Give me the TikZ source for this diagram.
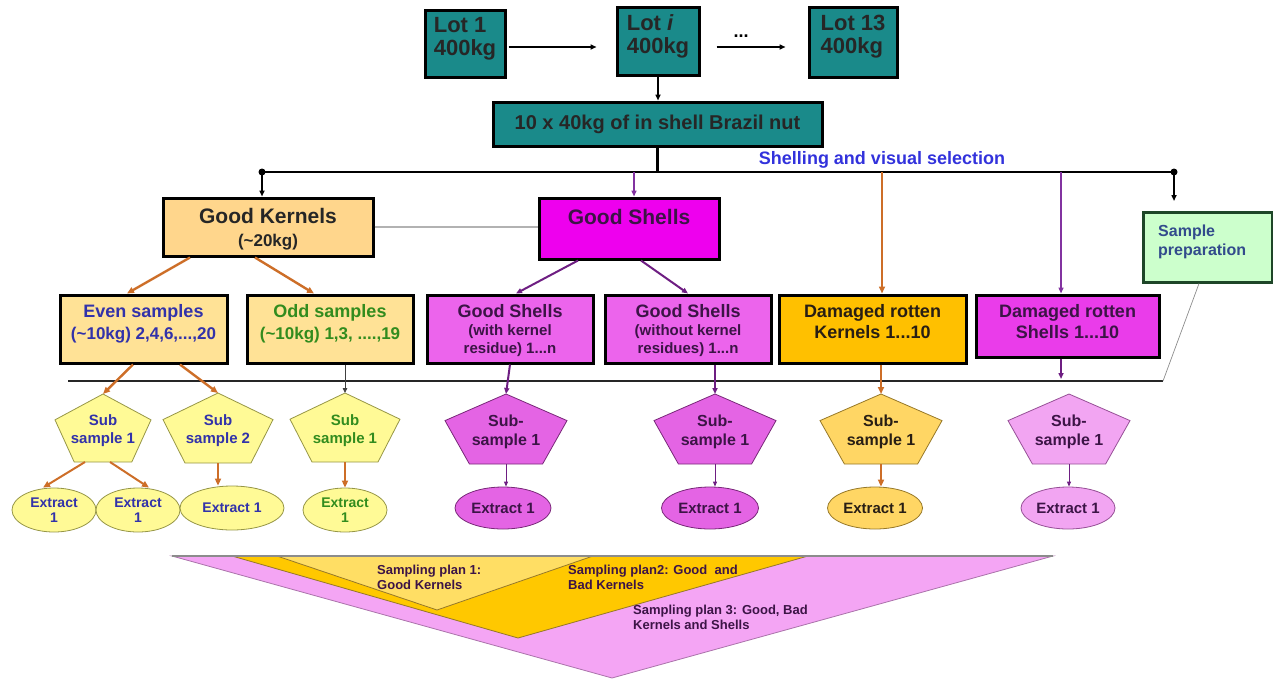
\documentclass[tikz,border=0pt]{standalone}
\usepackage{fontspec}
\setmainfont{Liberation Sans}
\usetikzlibrary{arrows.meta,shapes.geometric}

\definecolor{tealc}{RGB}{26,138,138}
\definecolor{gkfill}{RGB}{255,214,140}
\definecolor{eofill}{RGB}{255,226,150}
\definecolor{magA}{RGB}{238,0,238}
\definecolor{magB}{RGB}{236,100,236}
\definecolor{magC}{RGB}{234,60,234}
\definecolor{goldA}{RGB}{255,192,0}
\definecolor{spfill}{RGB}{204,255,204}
\definecolor{spdraw}{RGB}{30,70,40}
\definecolor{ylw}{RGB}{255,250,150}
\definecolor{ylwd}{RGB}{150,150,70}
\definecolor{pmag}{RGB}{228,100,228}
\definecolor{pmagd}{RGB}{120,40,120}
\definecolor{pgold}{RGB}{255,214,100}
\definecolor{pgoldd}{RGB}{150,120,40}
\definecolor{ppink}{RGB}{242,165,242}
\definecolor{ppinkd}{RGB}{150,80,150}
\definecolor{tblue}{RGB}{50,50,170}
\definecolor{tgreen}{RGB}{50,140,30}
\definecolor{tpurp}{RGB}{60,20,70}
\definecolor{tdark}{RGB}{40,30,20}
\definecolor{tslate}{RGB}{50,75,140}
\definecolor{shblue}{RGB}{50,50,220}
\definecolor{orarr}{RGB}{205,110,40}
\definecolor{puarr}{RGB}{110,30,130}
\definecolor{puarrl}{RGB}{130,50,160}
\definecolor{trpink}{RGB}{244,165,244}
\definecolor{trgold}{RGB}{255,200,0}
\definecolor{trylw}{RGB}{255,222,100}

\newcommand\fs[2]{\fontsize{#1}{#2}\selectfont\bfseries}

\tikzset{
  bx/.style={draw=black, line width=3pt, rectangle, inner sep=0pt},
  txt/.style={inner sep=0pt, align=center},
  arr/.style={-{Triangle[length=6pt,width=5pt]}, line width=1.6pt},
  oarr/.style={-{Triangle[length=7pt,width=6pt]}, draw=orarr, line width=2.4pt},
  parr/.style={-{Triangle[length=6pt,width=5pt]}, draw=puarr, line width=2pt},
  thinp/.style={-{Triangle[length=5pt,width=4pt]}, draw=puarr, line width=0.9pt},
  darr/.style={-{Triangle[length=5pt,width=4.5pt]}, draw=black!75, line width=0.8pt},
  ell/.style={ellipse, draw, line width=0.8pt, inner sep=0pt, align=center},
}

% name, cx, top, halfwidth, height, fill, draw, node options, text
\newcommand\mypent[9]{%
  \draw[fill=#6, draw=#7, line width=0.8pt] (#2,#3) -- ({#2+#4},{#3+0.38*#5}) -- ({#2+0.6*#4},{#3+#5}) -- ({#2-0.6*#4},{#3+#5}) -- ({#2-#4},{#3+0.38*#5}) -- cycle;
  \coordinate (#1t) at (#2,#3);
  \coordinate (#1b) at (#2,{#3+#5});
  \node[txt, #8] (#1) at (#2,{#3+0.54*#5}) {#9};
}

\begin{document}
\begin{tikzpicture}[x=1pt,y=-1pt]
\useasboundingbox (0,0) rectangle (1273,680);

% ---- bottom triangles
\filldraw[fill=trpink, draw=ppinkd!80, line width=0.8pt] (172,556) -- (1053,556) -- (612,678) -- cycle;
\filldraw[fill=trgold, draw=pgoldd, line width=0.8pt] (232,556) -- (808,556) -- (518,638) -- cycle;
\filldraw[fill=trylw, draw=pgoldd, line width=0.8pt] (277,556) -- (593,556) -- (437,610) -- cycle;
\draw[line width=1.2pt, draw=black!45] (172,556) -- (1053,556);
\node[txt, align=left, anchor=north west, text=tpurp, font=\fs{13}{15}] (spl1) at (377,565) {Sampling plan 1:\\Good Kernels};
\node[txt, align=left, anchor=north west, text=tpurp, font=\fs{13}{15}] (spl2) at (568,565) {Sampling plan2: Good~ and\\Bad Kernels};
\node[txt, align=left, anchor=north west, text=tpurp, font=\fs{13}{15}] (spl3) at (633,605) {Sampling plan 3: Good, Bad\\Kernels and Shells};

% ---- lots
\node[bx, fill=tealc, minimum width=80pt, minimum height=67pt] (lot1) at (465,43.5) {};
\node[txt, align=left, anchor=north, text=black!85, font=\fs{22}{23}] (lot1t) at ([yshift=-9pt]lot1.north) {Lot 1\\400kg};
\node[bx, fill=tealc, minimum width=82pt, minimum height=68pt] (loti) at (658,41) {};
\node[txt, align=left, anchor=north, text=black!85, font=\fs{22}{23}] (lotit) at ([yshift=-9pt]loti.north) {Lot \textit{i}\\400kg};
\node[bx, fill=tealc, minimum width=88pt, minimum height=70pt] (lot13) at (853,42) {};
\node[txt, align=left, anchor=north, text=black!85, font=\fs{22}{23}] (lot13t) at ([yshift=-9pt]lot13.north) {Lot 13\\400kg};

\draw[arr, shorten <=2pt, shorten >=19pt] ([yshift=-3.5pt]lot1.east) -- ([yshift=-6pt]loti.west);
\draw[arr, shorten <=16pt, shorten >=22pt] ([yshift=-6pt]loti.east) -- ([yshift=-5pt]lot13.west);
\node[txt, font=\fs{18}{18}] (dots) at (741,36) {...};

\node[bx, fill=tealc, minimum width=329pt, minimum height=44pt, text=black!85, font=\fs{20}{20}] (brazil) at (657.5,124) {10 x 40kg of in shell Brazil nut};
\draw[arr, line width=1.5pt] (loti.south) -- (loti.south |- brazil.north);

% ---- top bus
\coordinate (busL) at (262,172);
\coordinate (busR) at (1174,172);
\draw[line width=2.5pt] (brazil.south) -- (brazil.south |- busL);
\draw[line width=2.2pt] (busL) -- (busR);
\fill (busL) circle (3.5pt);
\fill (busR) circle (3.5pt);
\node[txt, text=shblue, font=\fs{18}{18}] (shl) at (882,160) {Shelling and visual selection};

% ---- level 1
\node[bx, fill=gkfill, minimum width=210pt, minimum height=58pt] (gk) at (268,227) {};
\node[txt, text=black!85, font=\fs{21}{23}] (gkt) at (268,229) {Good Kernels\\{\fs{17}{23}(\textasciitilde20kg)}};
\draw[arr] (busL) -- (busL |- gk.north);

\node[bx, fill=magA, minimum width=180pt, minimum height=61pt] (gs) at (629,228.5) {};
\node[txt, text=tpurp, font=\fs{21}{21}] (gst) at (629,217) {Good Shells};
\draw[line width=2pt, draw=black!30] (gk.east) -- (gk.east -| gs.west);
\coordinate (bp1) at (634,172);
\draw[parr, draw=puarrl, line width=1.4pt] (bp1) -- (bp1 |- gs.north);

\node[bx, draw=spdraw, fill=spfill, minimum width=129pt, minimum height=70pt] (sp) at (1207.5,247) {};
\node[txt, align=left, anchor=west, text=tslate, font=\fs{16}{19}] (spt) at (1158,242) {Sample\\preparation};
\coordinate (spa) at (1174,201);
\draw[arr] (busR) -- (spa);

% ---- level 2
\node[bx, fill=eofill, minimum width=167pt, minimum height=68pt] (even) at (143.5,329) {};
\node[txt, anchor=north, text=tblue, font=\fs{18}{22}] (event) at ([yshift=-11pt]even.north) {Even samples\\{\fs{17}{22}(\textasciitilde10kg) 2,4,6,...,20}};
\node[bx, fill=eofill, minimum width=166pt, minimum height=68pt] (odd) at (330,329) {};
\node[txt, anchor=north, text=tgreen, font=\fs{18}{22}] (oddt) at ([yshift=-11pt]odd.north) {Odd samples\\{\fs{17}{22}(\textasciitilde10kg) 1,3, ....,19}};
\node[bx, fill=magB, minimum width=166pt, minimum height=68pt] (gsw) at (510,329) {};
\node[txt, anchor=north, text=tpurp, font=\fs{18}{18}] (gswt) at ([yshift=-11pt]gsw.north) {Good Shells\\{\fs{15}{17}(with kernel}\\{\fs{15}{17}residue) 1...n}};
\node[bx, fill=magB, minimum width=166pt, minimum height=68pt] (gswo) at (688,329) {};
\node[txt, anchor=north, text=tpurp, font=\fs{18}{18}] (gswot) at ([yshift=-11pt]gswo.north) {Good Shells\\{\fs{15}{17}(without kernel}\\{\fs{15}{17}residues) 1...n}};
\node[bx, fill=goldA, minimum width=187pt, minimum height=68pt] (drk) at (872.5,329) {};
\node[txt, anchor=north, text=tdark, font=\fs{18}{21}] (drkt) at ([yshift=-11pt]drk.north) {Damaged rotten\\Kernels 1...10};
\node[bx, fill=magC, minimum width=183pt, minimum height=62pt] (drs) at (1067.5,326) {};
\node[txt, anchor=north, text=tpurp, font=\fs{18}{21}] (drst) at ([yshift=-11pt]drs.north) {Damaged rotten\\Shells 1...10};

\coordinate (bo) at (882,172);
\draw[oarr, line width=1.6pt] (bo) -- (bo |- drk.north);
\coordinate (bp2) at (1061,172);
\draw[parr, draw=puarrl, line width=1.4pt] (bp2) -- (bp2 |- drs.north);

\draw[oarr] ([xshift=-78pt]gk.south) -- ([xshift=-16.5pt]even.north);
\draw[oarr] ([xshift=-13pt]gk.south) -- ([xshift=-16pt]odd.north);
\draw[parr] ([xshift=-51pt]gs.south) -- ([xshift=6pt]gsw.north);
\draw[parr] ([xshift=12pt]gs.south) -- (gswo.north);

% ---- lower bus
\coordinate (lbL) at (68,381);
\coordinate (lbR) at (1163,381);
\draw[line width=2.2pt, draw=black!85] (lbL) -- (lbR);
\draw[line width=0.7pt, draw=black!45] ([xshift=-8.5pt]sp.south) -- (lbR);

% ---- pentagons
\mypent{pa}{103}{394}{48}{68}{ylw}{ylwd}{text=tblue, font=\fs{15}{18}}{Sub\\sample 1}
\mypent{pb}{218}{393}{55}{70}{ylw}{ylwd}{text=tblue, font=\fs{15}{18}}{Sub\\sample 2}
\mypent{pc}{345}{393}{55}{69}{ylw}{ylwd}{text=tgreen, font=\fs{15}{18}}{Sub\\sample 1}
\mypent{pd}{506}{394}{61}{70}{pmag}{pmagd}{text=tpurp, font=\fs{16}{19}}{Sub-\\sample 1}
\mypent{pe}{715}{394}{61}{70}{pmag}{pmagd}{text=tpurp, font=\fs{16}{19}}{Sub-\\sample 1}
\mypent{pf}{881}{394}{61}{70}{pgold}{pgoldd}{text=tdark, font=\fs{16}{19}}{Sub-\\sample 1}
\mypent{pg}{1069}{394}{61}{70}{ppink}{ppinkd}{text=tpurp, font=\fs{16}{19}}{Sub-\\sample 1}

\draw[oarr] ([xshift=-10.5pt]even.south) -- (pat);
\draw[oarr] ([xshift=36.5pt]even.south) -- (pbt);
\draw[darr] ([xshift=15pt]odd.south) -- (pct);
\draw[parr] (gsw.south) -- (pdt);
\draw[parr] ([xshift=27pt]gswo.south) -- (pet);
\draw[oarr] ([xshift=8.5pt]drk.south) -- (pft);
\coordinate (drsa) at (1061,379);
\draw[parr] ([xshift=-6.5pt]drs.south) -- (drsa);

% ---- extracts
\node[ell, fill=ylw, draw=ylwd, minimum width=84pt, minimum height=44pt, text=tblue, font=\fs{14}{15}] (ea) at (54,510) {Extract\\1};
\node[ell, fill=ylw, draw=ylwd, minimum width=84pt, minimum height=44pt, text=tblue, font=\fs{14}{15}] (eb) at (138,510) {Extract\\1};
\node[ell, fill=ylw, draw=ylwd, minimum width=104pt, minimum height=44pt, text=tblue, font=\fs{14}{15}] (ec) at (232,508) {Extract 1};
\node[ell, fill=ylw, draw=ylwd, minimum width=84pt, minimum height=44pt, text=tgreen, font=\fs{14}{15}] (ed) at (345,510) {Extract\\1};
\node[ell, fill=pmag, draw=pmagd, minimum width=96pt, minimum height=42pt, text=tpurp, font=\fs{15}{16}] (ee) at (503,508) {Extract 1};
\node[ell, fill=pmag, draw=pmagd, minimum width=97pt, minimum height=42pt, text=tpurp, font=\fs{15}{16}] (ef) at (710,508) {Extract 1};
\node[ell, fill=pgold, draw=pgoldd, minimum width=95pt, minimum height=42pt, text=tdark, font=\fs{15}{16}] (eg) at (875,508) {Extract 1};
\node[ell, fill=ppink, draw=ppinkd, minimum width=94pt, minimum height=42pt, text=tpurp, font=\fs{15}{16}] (eh) at (1068,508) {Extract 1};

\draw[oarr, line width=2pt] ([xshift=-18pt]pab) -- ([xshift=-11pt]ea.north);
\draw[oarr, line width=2pt] ([xshift=7pt]pab) -- ([xshift=11pt]eb.north);
\draw[oarr, line width=2pt] (pbb) -- (pbb |- ec.north);
\draw[oarr, line width=2pt] (pcb) -- (ed.north);
\draw[thinp] (pdb) -- (pdb |- ee.north);
\draw[thinp] (peb) -- (peb |- ef.north);
\draw[oarr, line width=2pt] (pfb) -- (pfb |- eg.north);
\draw[thinp] (pgb) -- (pgb |- eh.north);
\end{tikzpicture}
\end{document}
